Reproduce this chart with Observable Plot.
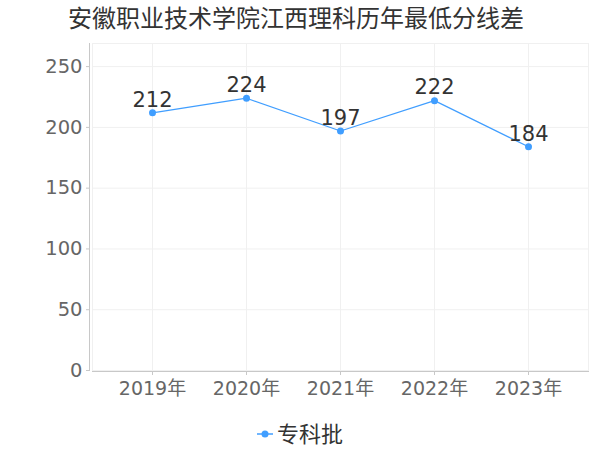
<!DOCTYPE html>
<html><head><meta charset="utf-8">
<script src="https://cdn.jsdelivr.net/npm/d3@7"></script>
<script src="https://cdn.jsdelivr.net/npm/@observablehq/plot@0.6"></script>
<style>
body{margin:0;background:#fff;font-family:"DejaVu Sans","Noto Sans CJK SC",sans-serif;}
#wrap{width:600px;height:450px;position:relative;}
#title{height:40px;line-height:38px;text-align:center;font-size:24px;color:#333;padding-right:8px;}
#legend{position:absolute;left:0;top:416px;width:600px;text-align:center;font-size:22px;color:#333;}
#legend span{vertical-align:middle;}
</style></head>
<body><div id="wrap"><div id="title"></div><div id="chart"></div><div id="legend"></div></div>
<script>
const title = "安徽职业技术学院江西理科历年最低分线差";
const years = ["2019年","2020年","2021年","2022年","2023年"];
const values = [212,224,197,222,184];
const seriesName = "专科批";
const yTicks = [0,50,100,150,200,250];
const color = "#409eff";

document.getElementById("title").textContent = title;
const data = years.map((y,i)=>({year:y, value:values[i]}));

const chart = Plot.plot({
  width:600, height:360,
  marginLeft:89, marginRight:12, marginTop:3, marginBottom:30,
  style:{fontFamily:'"DejaVu Sans","Noto Sans CJK SC",sans-serif', background:"#fff"},
  x:{type:"point", domain:years, padding:0.63, insetLeft:3},
  y:{domain:[0,269], ticks:yTicks},
  marks:[
    Plot.gridY(yTicks,{stroke:"#f0f0f0", strokeOpacity:1, insetLeft:3}),
    Plot.gridX(years,{stroke:"#f0f0f0", strokeOpacity:1}),
    Plot.frame({stroke:"#f0f0f0", insetLeft:3}),
    Plot.frame({anchor:"left", stroke:"#c8c8c8"}),
    Plot.frame({anchor:"bottom", stroke:"#c8c8c8", insetLeft:3, dy:1}),
    Plot.axisY({ticks:yTicks, tickSize:3, tickPadding:4, fontSize:19.5, color:"#666", stroke:"#c8c8c8", label:null}),
    Plot.axisX({tickSize:4, tickPadding:6, fontSize:19, color:"#666", stroke:"#c8c8c8", label:null, dy:1}),
    Plot.line(data,{x:"year", y:"value", stroke:color, strokeWidth:1.2}),
    Plot.dot(data,{x:"year", y:"value", r:3.5, fill:color}),
    Plot.text(data,{x:"year", y:"value", text:d=>String(d.value), dy:-13, fontSize:21, fill:"#333"})
  ]
});
document.getElementById("chart").appendChild(chart);

document.getElementById("legend").innerHTML =
  `<span><svg width="16" height="12" style="vertical-align:middle;margin-right:4px"><line x1="0" y1="6" x2="16" y2="6" stroke="${color}" stroke-width="1.5"/><circle cx="8" cy="6" r="3.5" fill="${color}"/></svg></span><span>${seriesName}</span>`;
</script></body></html>
